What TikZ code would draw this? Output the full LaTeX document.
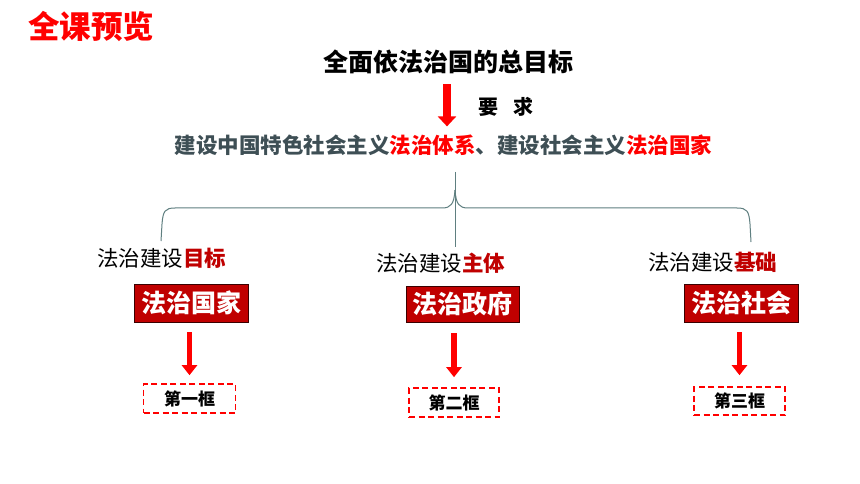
\documentclass[tikz,border=0pt]{standalone}
\usepackage{fontspec}
\setmainfont{Noto Sans CJK SC}
\usetikzlibrary{arrows.meta}
\definecolor{bred}{HTML}{FF0000}
\definecolor{dred}{HTML}{C00000}
\definecolor{slate}{HTML}{3E4F55}
\definecolor{bracec}{HTML}{5F7F80}
\tikzset{
  txt/.style={inner sep=0pt, anchor=center},
  redbox/.style={draw=black!70!dred, line width=0.8pt, fill=dred, text=white, font=\bfseries\fontsize{25}{28}\selectfont, minimum width=114pt, minimum height=38pt, inner sep=0pt},
  dashbox/.style={draw=bred, dashed, dash pattern=on 6pt off 3.5pt, line width=1.6pt, font=\bfseries\fontsize{17}{20}\selectfont, minimum width=92pt, minimum height=29pt, inner sep=0pt},
  bigarrow/.style={draw=bred, line width=5.5pt, -{Triangle[length=10pt,width=15pt]}},
  lab/.style={txt, font=\fontsize{21.5}{24}\selectfont},
}
\begin{document}
\begin{tikzpicture}[x=1pt,y=-1pt]
\useasboundingbox (0,0) rectangle (860,484);
\fill[white] (0,0) rectangle (860,484);

\node[txt, text=bred, font=\bfseries\fontsize{31.5}{34}\selectfont] (title) at (91,27) {全课预览};
\node[txt, font=\bfseries\fontsize{25}{28}\selectfont] (goal) at (448,62) {全面依法治国的总目标};
\node[txt, font=\bfseries\fontsize{20}{22}\selectfont] (yq) at (505.5,107) {要\hspace{15pt}求};
\node[txt, text=slate, font=\bfseries\fontsize{21.5}{24}\selectfont] (req) at (443.5,145) {建设中国特色社会主义\textcolor{bred}{法治体系}、建设社会主义\textcolor{bred}{法治国家}};

\draw[bigarrow, draw=bred, line width=8pt, -{Triangle[length=10pt,width=18pt]}, shorten <=10pt, shorten >=8pt] (goal.south -| 447,0) -- (req.north -| 447,0);

% brace
\coordinate (bt) at (455,172);
\coordinate (bb) at (455,247);
\coordinate (bl) at (161,241);
\coordinate (br) at (751,242);
\draw[bracec, line width=1pt] (bt) -- (bb);
\draw[bracec, line width=1pt] (bl) -- (162,224) .. controls (163,211) and (165,208) .. (175,208) -- (442,208) .. controls (451,208) and (454,204) .. (455,190);
\draw[bracec, line width=1pt] (br) -- (750,224) .. controls (749,211) and (747,208) .. (737,208) -- (468,208) .. controls (459,208) and (456,204) .. (455,190);

\node[lab] (l1) at (161.5,258) {法治建设\textcolor{dred}{\bfseries 目标}};
\node[lab] (l2) at (440.5,263) {法治建设\textcolor{dred}{\bfseries 主体}};
\node[lab] (l3) at (712.5,262) {法治建设\textcolor{dred}{\bfseries 基础}};

\node[redbox] (b1) at (191,303) {法治国家};
\node[redbox, minimum height=36pt, minimum width=113pt] (b2) at (462.5,304) {法治政府};
\node[redbox] (b3) at (741,303) {法治社会};

\node[dashbox] (d1) at (189.5,398.5) {第一框};
\node[dashbox, minimum width=90pt] (d2) at (454,402.5) {第二框};
\node[dashbox, minimum width=91pt, minimum height=28pt] (d3) at (739.5,401) {第三框};

\draw[bigarrow, shorten <=10pt, shorten >=8pt] (b1.south -| d1.north) -- (d1.north);
\draw[bigarrow, shorten <=11pt, shorten >=10pt] (b2.south -| d2.north) -- (d2.north);
\draw[bigarrow, shorten <=10pt, shorten >=11pt] (b3.south -| d3.north) -- (d3.north);
\end{tikzpicture}
\end{document}
